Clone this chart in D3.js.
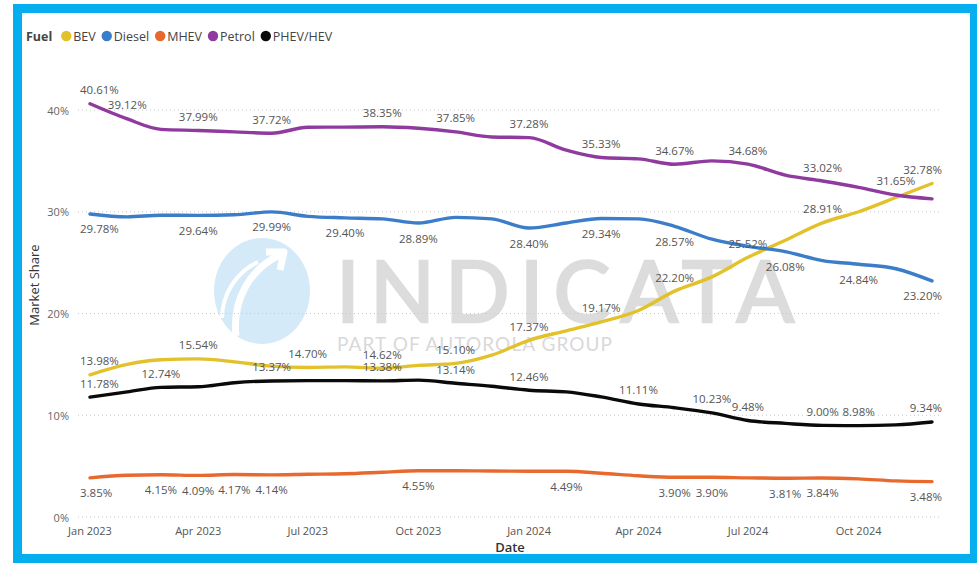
<!DOCTYPE html>
<html>
<head>
<meta charset="utf-8">
<script src="https://cdn.jsdelivr.net/npm/d3@7"></script>
<style>
  html, body { margin: 0; padding: 0; background: #fff; }
  svg { display: block; font-family: "Segoe UI", "Open Sans", sans-serif; }
</style>
</head>
<body>
<svg id="chart" width="977" height="564"></svg>
<script>
// months Jan 2023 .. Dec 2024
const months = d3.range(24).map(i => new Date(2023, i, 1));

const bev    = [13.98, 15.00, 15.45, 15.54, 15.25, 14.83, 14.70, 14.75, 14.62, 14.90, 15.10, 15.90,
                17.37, 18.30, 19.17, 20.30, 22.20, 23.60, 25.52, 27.20, 28.91, 30.00, 31.40, 32.78];
const diesel = [29.78, 29.50, 29.66, 29.64, 29.70, 29.99, 29.55, 29.40, 29.30, 28.89, 29.45, 29.30,
                28.40, 28.90, 29.34, 29.30, 28.57, 27.30, 26.60, 26.08, 25.20, 24.84, 24.40, 23.20];
const mhev   = [3.85, 4.10, 4.15, 4.09, 4.17, 4.14, 4.20, 4.25, 4.40, 4.55, 4.55, 4.52,
                4.50, 4.49, 4.30, 4.05, 3.90, 3.90, 3.85, 3.81, 3.84, 3.75, 3.55, 3.48];
const petrol = [40.61, 39.12, 38.10, 37.99, 37.85, 37.72, 38.30, 38.32, 38.35, 38.20, 37.85, 37.35,
                37.28, 36.05, 35.33, 35.20, 34.67, 35.00, 34.68, 33.60, 33.02, 32.40, 31.65, 31.27];
const phev   = [11.78, 12.30, 12.74, 12.80, 13.20, 13.37, 13.40, 13.40, 13.38, 13.45, 13.14, 12.85,
                12.46, 12.30, 11.80, 11.11, 10.74, 10.23, 9.48, 9.20, 9.00, 8.98, 9.05, 9.34];

// which months carry a data label
const bevLabels    = [0, 3, 6, 8, 10, 12, 14, 16, 18, 20, 23];
const dieselLabels = [0, 3, 5, 7, 9, 12, 14, 16, 19, 21, 23];
const mhevLabels   = [0, 2, 3, 4, 5, 9, 13, 16, 17, 19, 20, 23];
const petrolLabels = [0, 1, 3, 5, 8, 10, 12, 14, 16, 18, 20, 22];
const phevLabels   = [0, 2, 5, 8, 10, 12, 15, 17, 18, 20, 21, 23];

const yTicks = [0, 10, 20, 30, 40];
const xTicks = [new Date(2023,0,1), new Date(2023,3,1), new Date(2023,6,1), new Date(2023,9,1),
                new Date(2024,0,1), new Date(2024,3,1), new Date(2024,6,1), new Date(2024,9,1)];

const series = [
  {name: "BEV",      values: bev,    labels: bevLabels,    color: "#E2C12B", pos: "above"},
  {name: "Diesel",   values: diesel, labels: dieselLabels, color: "#3B7DC8", pos: "below"},
  {name: "MHEV",     values: mhev,   labels: mhevLabels,   color: "#E8692E", pos: "below"},
  {name: "Petrol",   values: petrol, labels: petrolLabels, color: "#8F3A9E", pos: "above"},
  {name: "PHEV/HEV", values: phev,   labels: phevLabels,   color: "#0a0a0a", pos: "above"}
];

const svg = d3.select("#chart");

// frame
svg.append("rect")
  .attr("x", 17.5).attr("y", 8.5).attr("width", 957).attr("height", 550)
  .attr("fill", "#fff").attr("stroke", "#05AEEF").attr("stroke-width", 9);

const x = d3.scaleTime()
  .domain([months[0], months[23]])
  .range([90, 932]);
const y = d3.scaleLinear()
  .domain([0, 40])
  .range([517, 110]);

// watermark
const wm = svg.append("g").attr("class", "watermark");
wm.append("ellipse").attr("cx", 262).attr("cy", 291).attr("rx", 48).attr("ry", 53)
  .attr("fill", "#d4eaf8");
wm.append("path")
  .attr("d", "M236,336 C232,300 250,268 282,254 M266,252 L284,252 L280,270")
  .attr("fill", "none").attr("stroke", "#fff").attr("stroke-width", 7)
  .attr("stroke-linejoin", "round");
wm.append("path")
  .attr("d", "M222,318 C222,295 236,272 258,262")
  .attr("fill", "none").attr("stroke", "#fff").attr("stroke-width", 4);
wm.append("text")
  .attr("x", 336).attr("y", 322)
  .attr("textLength", 458).attr("lengthAdjust", "spacing")
  .style("font-family", "Lato, 'Open Sans', sans-serif")
  .style("font-weight", 400)
  .style("font-size", "85px")
  .attr("fill", "#dcdcdc")
  .attr("stroke", "#dcdcdc").attr("stroke-width", 2.5)
  .text("INDICATA");
wm.append("text")
  .attr("x", 337).attr("y", 351)
  .attr("textLength", 275).attr("lengthAdjust", "spacing")
  .style("font-family", "Lato, 'Open Sans', sans-serif")
  .style("font-weight", 400)
  .style("font-size", "19px")
  .attr("fill", "#d9d9d9")
  .text("PART OF AUTOROLA GROUP");

// gridlines + y axis labels
const grid = svg.append("g");
grid.selectAll("line")
  .data(yTicks)
  .enter()
  .append("line")
  .attr("x1", 78).attr("x2", 940)
  .attr("y1", d => y(d)).attr("y2", d => y(d))
  .attr("stroke", "#c8c8c8").attr("stroke-width", 1)
  .attr("stroke-dasharray", "1,3");
grid.selectAll("text")
  .data(yTicks)
  .enter()
  .append("text")
  .attr("x", 69).attr("y", d => y(d))
  .attr("text-anchor", "end").attr("dominant-baseline", "central")
  .style("font-size", "11px").attr("fill", "#666")
  .text(d => d + "%");

// x axis labels
const fmt = d3.timeFormat("%b %Y");
svg.append("g").selectAll("text")
  .data(xTicks)
  .enter()
  .append("text")
  .attr("x", d => x(d)).attr("y", 530)
  .attr("text-anchor", "middle").attr("dominant-baseline", "central")
  .style("font-size", "11px").attr("fill", "#555")
  .text(d => fmt(d));

// axis titles
svg.append("text")
  .attr("x", 510).attr("y", 547)
  .attr("text-anchor", "middle").attr("dominant-baseline", "central")
  .style("font-size", "13px").style("font-weight", 600).attr("fill", "#333")
  .text("Date");
svg.append("text")
  .attr("transform", "translate(34,285) rotate(-90)")
  .attr("text-anchor", "middle").attr("dominant-baseline", "central")
  .style("font-size", "13px").attr("fill", "#333")
  .text("Market Share");

// lines
const line = d3.line()
  .x((d, i) => x(months[i]))
  .y(d => y(d))
  .curve(d3.curveMonotoneX);

const lines = svg.append("g");
series.forEach(s => {
  lines.append("path")
    .datum(s.values)
    .attr("d", line)
    .attr("fill", "none")
    .attr("stroke", s.color)
    .attr("stroke-width", 3.4)
    .attr("stroke-linejoin", "round")
    .attr("stroke-linecap", "round");
});

// data labels
const labels = svg.append("g")
  .style("font-size", "11.5px").attr("fill", "#555");
series.forEach(s => {
  s.labels.forEach(i => {
    const t = labels.append("text")
      .attr("y", y(s.values[i]) + (s.pos === "above" ? -14 : 15))
      .attr("dominant-baseline", "central")
      .attr("text-anchor", "start")
      .text(s.values[i].toFixed(2) + "%");
    const w = t.node().getComputedTextLength();
    let left = x(months[i]) - w / 2;
    left = Math.max(80, Math.min(942 - w, left));
    t.attr("x", left);
  });
});

// legend
const legend = svg.append("g").attr("transform", "translate(26,36)");
const fuel = legend.append("text")
  .attr("x", 0).attr("y", 0).attr("dominant-baseline", "central")
  .style("font-size", "12.5px").style("font-weight", 700).attr("fill", "#444")
  .text("Fuel");
let lx = fuel.node().getComputedTextLength() + 14;
series.forEach(s => {
  legend.append("circle").attr("cx", lx).attr("cy", 0).attr("r", 5.2).attr("fill", s.color);
  const t = legend.append("text")
    .attr("x", lx + 7).attr("y", 0).attr("dominant-baseline", "central")
    .style("font-size", "12.5px").attr("fill", "#444")
    .text(s.name);
  lx += 7 + t.node().getComputedTextLength() + 11;
});
</script>
</body>
</html>
